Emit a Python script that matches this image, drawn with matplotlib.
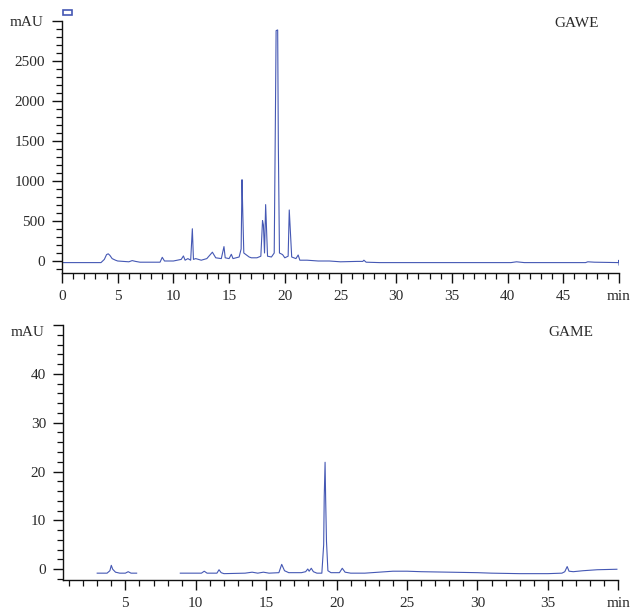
import numpy as np
import matplotlib
matplotlib.use('Agg')
import matplotlib.pyplot as plt
from matplotlib import patches
from matplotlib.ticker import MultipleLocator, FixedLocator, FixedFormatter

## data (time in min, signal in mAU)

gawe_t = [0.0, 3.5, 3.8, 4.0, 4.15, 4.3, 4.5, 4.8, 5.0, 5.5, 6.0, 6.3, 6.6, 7.0,
          8.8, 9.0, 9.2, 10.0, 10.7, 10.9, 11.05, 11.3, 11.55, 11.7, 11.8, 12.0,
          12.5, 13.0, 13.5, 13.8, 14.3, 14.54, 14.65, 15.0, 15.2, 15.35, 15.9,
          16.08, 16.16, 16.22, 16.32, 16.8, 17.0, 17.5, 17.85, 18.0, 18.08, 18.18,
          18.28, 18.36, 18.45, 18.8, 19.05, 19.15, 19.22, 19.36, 19.42, 19.52, 19.8,
          20.0, 20.3, 20.4, 20.5, 20.62, 21.0, 21.2, 21.35, 22.0, 23.0, 24.0, 25.0,
          26.5, 27.0, 27.1, 27.3, 28.5, 40.3, 40.8, 41.5, 47.0, 47.2, 47.8,
          49.95, 50.0, 50.0]
gawe_v = [-20, -20, 20, 80, 90, 70, 30, 10, 0, -5, -10, 5, -5, -15,
          -15, 46, 0, 0, 20, 63, 10, 30, 10, 403, 20, 30,
          10, 30, 110, 40, 30, 180, 40, 30, 84, 30, 50,
          150, 1016, 650, 100, 50, 40, 40, 60, 504, 450, 100,
          705, 400, 60, 50, 100, 1700, 2880, 2888, 1450, 100, 80,
          40, 60, 638, 370, 50, 30, 75, 10, 10, 0, 0, -10,
          -5, -5, 10, -15, -20, -20, -10, -20, -20, -10, -15,
          -20, 10, -50]

game_t = [3.0, 3.7, 3.9, 4.0, 4.1, 4.3, 4.6, 5.0, 5.2, 5.4, 5.8, np.nan,
          8.9, 10.4, 10.6, 10.8, 11.5, 11.65, 11.8, 12.0, 13.5, 14.0, 14.4,
          14.8, 15.2, 15.9, 16.1, 16.3, 16.6, 17.5, 17.8, 17.95, 18.05, 18.2,
          18.35, 18.6, 18.95, 19.08, 19.12, 19.18, 19.22, 19.28, 19.38, 19.6, 20.2,
          20.4, 20.6, 21.0, 22.0, 23.0, 24.0, 25.0, 26.0, 28.0, 30.0, 31.0,
          33.0, 35.0, 36.0, 36.2, 36.37, 36.5, 36.8, 37.5, 38.5, 39.9]
game_v = [-0.8, -0.8, -0.3, 0.8, 0.0, -0.6, -0.8, -0.8, -0.5, -0.8, -0.8, np.nan,
          -0.8, -0.8, -0.4, -0.8, -0.8, -0.1, -0.7, -0.9, -0.8, -0.6, -0.8,
          -0.6, -0.8, -0.7, 1.0, -0.3, -0.7, -0.7, -0.5, 0.05, -0.4, 0.2,
          -0.5, -0.8, -0.8, 5.0, 14.9, 21.9, 14.5, 5.7, -0.3, -0.7, -0.7,
          0.2, -0.6, -0.8, -0.8, -0.6, -0.4, -0.4, -0.5, -0.6, -0.7, -0.8,
          -0.9, -0.9, -0.8, -0.5, 0.55, -0.4, -0.5, -0.3, -0.1, 0.0]

gawe_yticks = [0, 500, 1000, 1500, 2000, 2500]
gawe_xticks = [0, 5, 10, 15, 20, 25, 30, 35, 40, 45, 50]
game_yticks = [0, 10, 20, 30, 40]
game_xticks = [5, 10, 15, 20, 25, 30, 35, 40]

## style

line_col = '#4558b4'
txt_col = '#2a2a2a'
fs = 11

plt.rcParams['font.family'] = ['Liberation Serif', 'DejaVu Serif']
plt.rcParams['font.size'] = fs

W, H = 632, 614
fig = plt.figure(figsize=(W/100, H/100), dpi=100)

def px_axes(x0, x1, ytop, ybot):
	return fig.add_axes([x0/W, 1 - ybot/H, (x1 - x0)/W, (ybot - ytop)/H])

def style_axes(ax, xticks, yticks, xmin_step, ymin_step, sample, ymark, sample_pos):
	for s in ['top', 'right']:
		ax.spines[s].set_visible(False)
	for s in ['left', 'bottom']:
		ax.spines[s].set_linewidth(1.0)
		ax.spines[s].set_color('#111111')

	xlabels = [str(t) for t in xticks[:-1]] + ['min']
	ax.xaxis.set_major_locator(FixedLocator(xticks))
	ax.xaxis.set_major_formatter(FixedFormatter(xlabels))
	ax.xaxis.set_minor_locator(MultipleLocator(xmin_step))
	ax.yaxis.set_major_locator(FixedLocator(yticks + [ax.get_ylim()[1]]))
	ax.yaxis.set_major_formatter(FixedFormatter([str(t) for t in yticks] + ['']))
	ax.yaxis.set_minor_locator(MultipleLocator(ymin_step))

	ax.tick_params(which='major', direction='out', length=7, width=1.0,
				   colors='#111111', labelcolor=txt_col, labelsize=fs, pad=5)
	ax.tick_params(which='minor', direction='out', length=4, width=0.9, colors='#111111')

	ax.annotate('mAU', xy=(0, ymark), xycoords=('axes fraction', 'data'),
				xytext=(-13, 0), textcoords='offset points', ha='right', va='center',
				fontsize=fs, color=txt_col)
	ax.text(sample_pos[0], sample_pos[1], sample, transform=ax.transAxes,
			ha='center', va='center', fontsize=fs, color=txt_col)

## top: GAWE

ax1 = px_axes(62, 619, 21, 273)
ax1.plot(gawe_t, gawe_v, color=line_col, lw=0.8)
ax1.set_xlim(0, 50)
ax1.set_ylim(-150, 3000)
style_axes(ax1, gawe_xticks, gawe_yticks, 1, 100, 'GAWE', 2980, (0.924, 0.99))

## bottom: GAME

ax2 = px_axes(62.7, 618.3, 325, 580)
ax2.plot(game_t, game_v, color=line_col, lw=0.8)
ax2.set_xlim(0.55, 40)
ax2.set_ylim(-2.2, 50)
style_axes(ax2, game_xticks, game_yticks, 1, 2, 'GAME', 48.4, (0.915, 0.97))

# small legend marker top-left
fig.patches.append(patches.Rectangle((63.5/W, 1 - 14.5/H), 8.5/W, 4/H,
									 transform=fig.transFigure, fill=False,
									 edgecolor=line_col, lw=1.2))

fig.savefig('out.png', dpi=100)
